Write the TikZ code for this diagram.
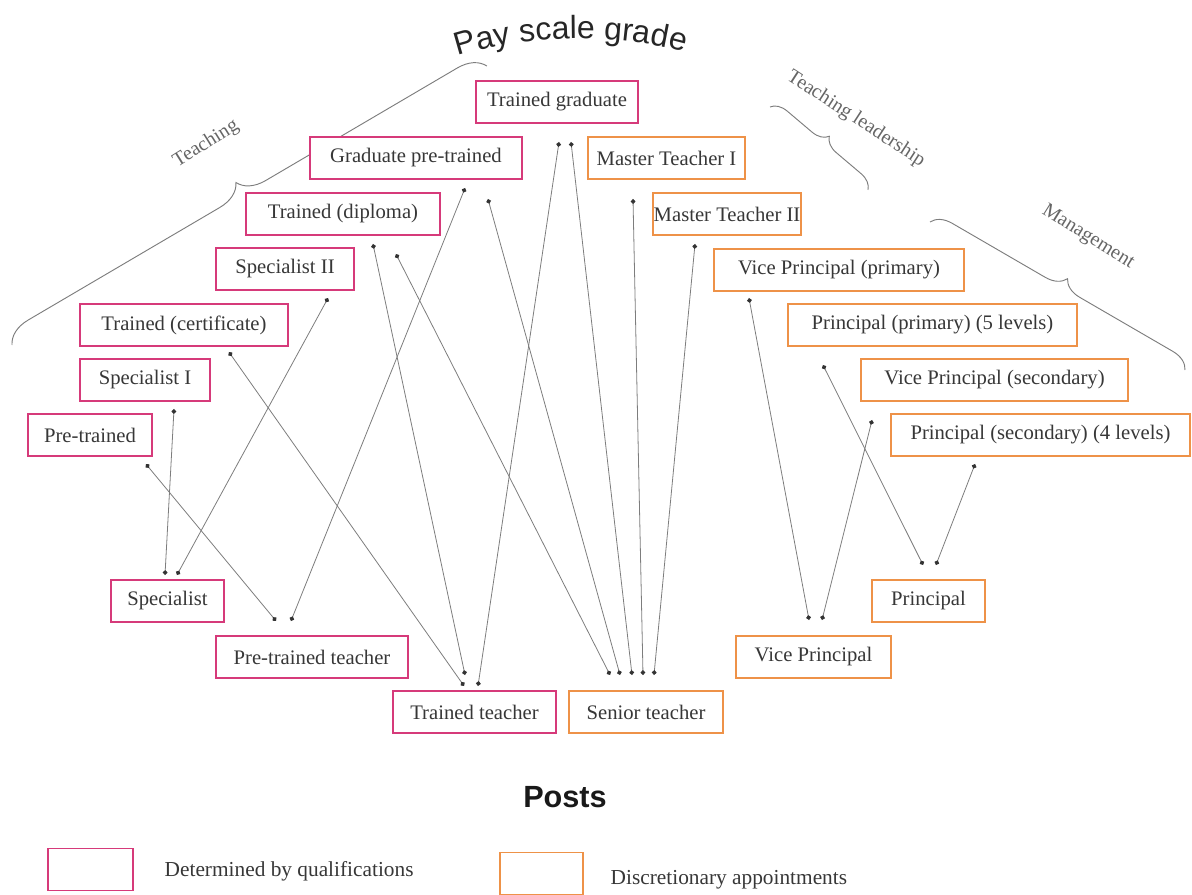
\documentclass[tikz,border=0pt]{standalone}
\usepackage{fontspec}
\setmainfont{Liberation Serif}
\newfontfamily\titlefont{Liberation Sans}
\usetikzlibrary{arrows.meta, calc, decorations.pathreplacing, decorations.text}
\definecolor{qualcolor}{RGB}{214, 58, 122}
\definecolor{apptcolor}{RGB}{238, 146, 72}
\definecolor{postcolor}{RGB}{55, 55, 55}
\definecolor{linkcolor}{RGB}{125, 125, 125}

\begin{document}
\begin{tikzpicture}[x=0.75pt, y=-0.75pt,
  post/.style={draw, line width=1.7pt, fill=white, text=postcolor, minimum height=31.5pt, inner xsep=0pt, font=\fontsize{15.5}{18}\selectfont},
  qual/.style={post, draw=qualcolor, minimum width=#1*0.75pt},
  appt/.style={post, draw=apptcolor, minimum width=#1*0.75pt},
  link/.style={draw=linkcolor, line width=0.6pt, {Circle[length=3.5pt, color=black!80]}-{Circle[length=3.5pt, color=black!80]}},
  group/.style={text=black!60, font=\fontsize{15}{17}\selectfont},
  bracket/.style={draw=linkcolor, line width=0.7pt, decorate, decoration={brace, amplitude=#1}},
  keytext/.style={anchor=west, text=postcolor, font=\fontsize{16}{19}\selectfont}]
\useasboundingbox (0,0) rectangle (1192,895);

% titles
\path[decorate, decoration={text along path, text align=center, text color=black!85,
  text={|\titlefont\fontsize{24}{28}\selectfont|Pay scale grade}}]
  (452,58) .. controls (520,34) and (620,32) .. (690,54);
\node[font=\titlefont\bfseries\fontsize{23}{27}\selectfont, text=black!90] (posts) at (565,797) {Posts};

% groups of grades
\draw[bracket=20pt] (12,345) -- (487,66);
\draw[bracket=12pt] (770,107) -- (868,190);
\draw[bracket=15pt] (930,222) -- (1185,370);
\node[group, rotate=32] (teachlbl) at (206,144) {Teaching};
\node[group, rotate=-33] (leadlbl) at (856,119) {Teaching leadership};
\node[group, rotate=-32] (mgmtlbl) at (1088,237) {Management};

% pay scale grades
\node[qual=162] (tg) at (557,102) {Trained graduate};
\node[qual=212] (gpt) at (416,158) {Graduate pre-trained};
\node[qual=194] (tdip) at (343,214) {Trained (diploma)};
\node[qual=138] (spII) at (285,269) {Specialist II};
\node[qual=208] (tcert) at (184,325) {Trained (certificate)};
\node[qual=130] (spI) at (145,380) {Specialist I};
\node[qual=124] (pt) at (90,435) {Pre-trained};
\node[appt=157] (mtI) at (666.5,158) {Master Teacher I};
\node[appt=148] (mtII) at (727,214) {Master Teacher II};
\node[appt=250] (vpp) at (839,270) {Vice Principal (primary)};
\node[appt=289] (pp) at (932.5,325) {Principal (primary) (5 levels)};
\node[appt=267] (vps) at (994.5,380) {Vice Principal (secondary)};
\node[appt=299] (ps) at (1040.5,435) {Principal (secondary) (4 levels)};

% posts
\node[qual=113] (spec) at (167.5,601) {Specialist};
\node[qual=192] (ptt) at (312,657) {Pre-trained teacher};
\node[qual=163] (tt) at (474.5,712) {Trained teacher};
\node[appt=154] (st) at (646,712) {Senior teacher};
\node[appt=155] (vp) at (813.5,657) {Vice Principal};
\node[appt=113] (prin) at (928.5,601) {Principal};

% grade <-> post
\draw[link] ($(spI.south)+(29,7)$) -- ($(spec.north)+(-2.5,-4)$);
\draw[link] ($(spII.south)+(43,7)$) -- ($(spec.north)+(9.5,-4)$);
\draw[link] ($(pt.south)+(56,7)$) -- ($(ptt.north)+(-36,-14)$);
\draw[link] ($(gpt.south)+(49,8)$) -- ($(ptt.north)+(-21,-14)$);
\draw[link] ($(tcert.south)+(45,5)$) -- ($(tt.north)+(-10.5,-4)$);
\draw[link] ($(tdip.south)+(30,8)$) -- ($(tt.north)+(-9.5,-15)$);
\draw[link] ($(tg.south)+(2,18)$) -- ($(tt.north)+(3.5,-4)$);
\draw[link] ($(tg.south)+(14,18)$) -- ($(st.north)+(-14,-15)$);
\draw[link] ($(gpt.south)+(72,19)$) -- ($(st.north)+(-26,-15)$);
\draw[link] ($(tdip.south)+(53,18)$) -- ($(st.north)+(-36,-15)$);
\draw[link] ($(mtI.south)+(-33.5,19)$) -- ($(st.north)+(-3,-15)$);
\draw[link] ($(mtII.south)+(-32,8)$) -- ($(st.north)+(8,-15)$);
\draw[link] ($(vpp.south)+(-90,6)$) -- ($(vp.north)+(-4.5,-15)$);
\draw[link] ($(vps.south)+(-122.5,18)$) -- ($(vp.north)+(8.5,-15)$);
\draw[link] ($(pp.south)+(-109.5,18)$) -- ($(prin.north)+(-5.5,-14)$);
\draw[link] ($(ps.south)+(-65.5,7)$) -- ($(prin.north)+(7.5,-14)$);

% key
\node[qual=85, line width=1.3pt] (keyqual) at (90.5,869.5) {};
\node[keytext] (keyqualtext) at (160,871) {Determined by qualifications};
\node[appt=83, line width=1.3pt] (keyappt) at (541.5,873.5) {};
\node[keytext] (keyappttext) at (606,880) {Discretionary appointments};
\end{tikzpicture}
\end{document}
